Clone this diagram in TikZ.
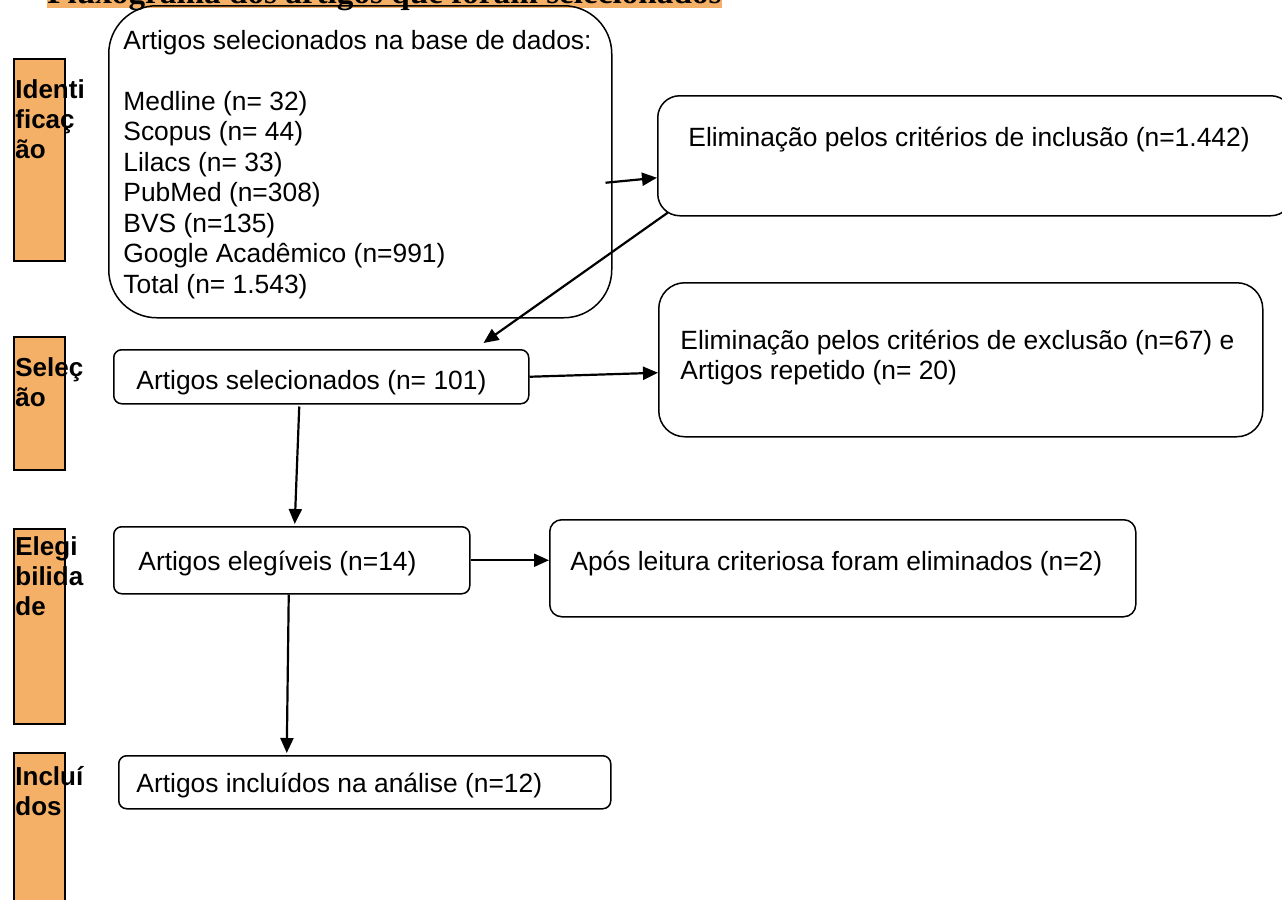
\documentclass[tikz,border=0pt]{standalone}
\usepackage{fontspec}
\setmainfont{Liberation Sans}
\newfontfamily\titlefont{Liberation Serif}
\usepackage{tikz}
\usetikzlibrary{arrows.meta}
\usetikzlibrary{calc}
\definecolor{barorange}{RGB}{245,176,104}

\begin{document}
\begin{tikzpicture}[x = 0.5pt, y = -0.5pt,
    box/.style = {draw, line width = 0.75pt, rectangle, anchor = north west, inner sep = 0pt},
    txt/.style = {anchor = base west, inner sep = 0pt, align = left, font = \fontsize{13.2}{15.25}\selectfont},
    bar/.style = {draw, line width = 0.75pt, fill = barorange, anchor = north west, inner sep = 0pt, minimum width = 25.5pt},
    lab/.style = {anchor = base west, inner sep = 0pt, align = left, font = \fontsize{13}{15}\selectfont\bfseries},
    arr/.style = {-{Triangle[length = 7.5pt, width = 6.5pt]}, line width = 1.1pt}]
        \clip (0, 0) rectangle (1282, 900);
        \node [anchor = base west, inner sep = 0pt, fill = barorange, text depth = 2.5pt, font = \titlefont\fontsize{16.6}{18}\selectfont\bfseries] (title) at (47, 3) {Fluxograma dos artigos que foram selecionados};
        \node [bar, minimum height = 101pt] (identBar) at (13, 58) {};
        \node [bar, minimum height = 66.5pt] (selBar) at (13, 336) {};
        \node [bar, minimum height = 97.5pt] (elegBar) at (13, 528) {};
        \node [bar, minimum height = 79pt] (inclBar) at (13, 752) {};
        \node [lab] (identLab) at (15, 158) {Identi\\ficaç\\ão};
        \node [lab] (selLab) at (15, 406) {Seleç\\ão};
        \node [lab] (elegLab) at (15, 615) {Elegi\\bilida\\de};
        \node [lab] (inclLab) at (15, 815) {Incluí\\dos};
        \node [box, rounded corners = 24pt, minimum width = 251.5pt, minimum height = 156pt] (base) at (108, 5) {};
        \node [box, rounded corners = 11pt, minimum width = 317.5pt, minimum height = 60pt] (incl) at (657, 95) {};
        \node [box, rounded corners = 4pt, minimum width = 207.5pt, minimum height = 27pt] (sel) at (113, 349) {};
        \node [box, rounded corners = 13pt, minimum width = 302pt, minimum height = 77pt] (excl) at (658, 282) {};
        \node [box, rounded corners = 4pt, minimum width = 178pt, minimum height = 33.5pt] (eleg) at (113, 526) {};
        \node [box, rounded corners = 6pt, minimum width = 293pt, minimum height = 48.5pt] (after) at (549, 519) {};
        \node [box, rounded corners = 4pt, minimum width = 246pt, minimum height = 26.5pt] (final) at (118, 755) {};
        \node [txt] (baseTxt) at (123, 293) {Artigos selecionados na base de dados:\\[15.25pt]Medline (n= 32)\\Scopus (n= 44)\\Lilacs (n= 33)\\PubMed (n=308)\\BVS (n=135)\\Google Acadêmico (n=991)\\Total (n= 1.543)};
        \node [txt] (inclTxt) at (688, 146) {Eliminação pelos critérios de inclusão (n=1.442)};
        \node [txt] (selTxt) at (136, 389) {Artigos selecionados (n= 101)};
        \node [txt] (exclTxt) at (680, 379.5) {Eliminação pelos critérios de exclusão (n=67) e\\Artigos repetido (n= 20)};
        \node [txt] (elegTxt) at (138, 570) {Artigos elegíveis (n=14)};
        \node [txt] (afterTxt) at (570, 570) {Após leitura criteriosa foram eliminados (n=2)};
        \node [txt] (finalTxt) at (136, 792) {Artigos incluídos na análise (n=12)};
        \draw [arr] ($(base.east) + (-7, 21)$) -- ($(incl.west) + (0, 22)$);
        \draw [arr] ($(incl.south west) + (11, -4)$) -- ($(sel.north east) + (-46, -6)$);
        \draw [arr] (sel.east) -- ($(excl.west) + (0, 13)$);
        \draw [arr] ($(sel.south) + (-22, 2)$) -- ($(eleg.north) + (3, -2)$);
        \draw [arr] (eleg.east) -- (eleg.east -| after.west);
        \draw [arr] ($(eleg.south) + (-3, 0)$) -- ($(final.north) + (-78, -2)$);
    \end{tikzpicture}
\end{document}
